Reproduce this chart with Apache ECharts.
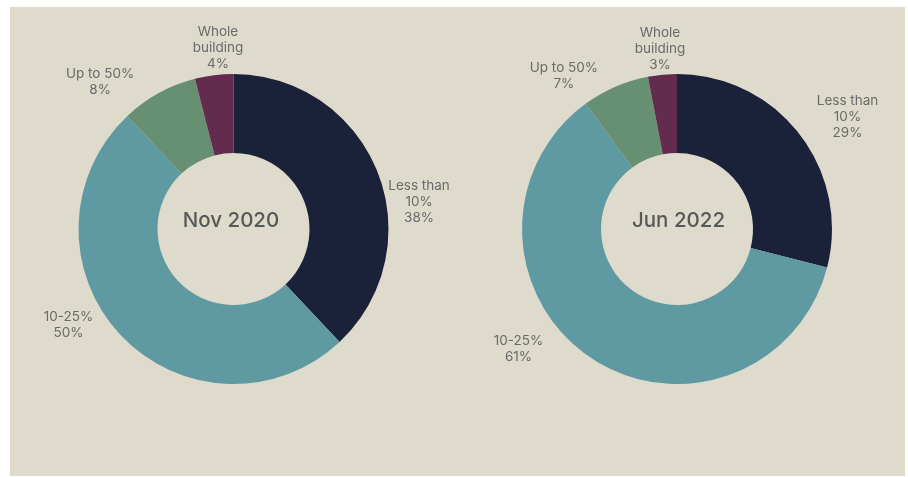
<!DOCTYPE html>
<html>
<head>
<meta charset="utf-8">
<style>
  html, body { margin: 0; padding: 0; background: #ffffff; }
  #chart { width: 908px; height: 477px; }
</style>
<script src="https://cdn.jsdelivr.net/npm/echarts@6/dist/echarts.min.js"></script>
</head>
<body>
<div id="chart"></div>
<script>
// Share of floor space by band, two survey dates
const categories = ['Less than 10%', '10-25%', 'Up to 50%', 'Whole building'];
const labelNames = ['Less than\n10%', '10-25%', 'Up to 50%', 'Whole\nbuilding'];
const periods = ['Nov 2020', 'Jun 2022'];
const valuesNov2020 = [38, 50, 8, 4];
const valuesJun2022 = [29, 61, 7, 3];

const colors = ['#1b2139', '#5f9aa3', '#678f72', '#632c4f'];
const FONT = 'Inter';

// Pie geometry (pixels)
const centers = [[233.5, 229], [677, 229]];
const radius = [76, 155];

// Label placement around each ring: [angle clockwise from 12 o'clock (deg), distance from centre (px)]
const labelPlacement = [
  [[81.7, 187.5], [239.8, 190.9], [317.8, 198.6], [355.1, 181.7]],
  [[56.7, 204.0], [232.9, 198.8], [323.6, 190.6], [354.6, 181.3]]
];

function makeSeries(idx, values) {
  return {
    type: 'pie',
    center: centers[idx],
    radius: radius,
    startAngle: 90,
    clockwise: true,
    avoidLabelOverlap: false,
    silent: true,
    data: values.map((v, i) => ({
      name: categories[i],
      value: v,
      itemStyle: { color: colors[i] }
    })),
    itemStyle: { borderWidth: 0 },
    label: {
      show: true,
      position: 'outside',
      formatter: p => labelNames[p.dataIndex] + '\n' + p.value + '%',
      fontFamily: FONT,
      fontSize: 13.5,
      lineHeight: 16,
      color: '#6a6a6a'
    },
    labelLine: { show: false, length: 0, length2: 0 },
    labelLayout: function (params) {
      const pl = labelPlacement[idx][params.dataIndex];
      const a = pl[0] * Math.PI / 180;
      return {
        x: centers[idx][0] + pl[1] * Math.sin(a),
        y: centers[idx][1] - pl[1] * Math.cos(a),
        align: 'center',
        verticalAlign: 'middle'
      };
    }
  };
}

function centreText(text, x) {
  return {
    type: 'text',
    z: 10,
    x: x, y: 221,
    style: {
      text: text, textAlign: 'center', textVerticalAlign: 'middle',
      fontFamily: FONT, fontSize: 20.5, fontWeight: 500, fill: '#575959'
    }
  };
}

const chart = echarts.init(document.getElementById('chart'), null, { renderer: 'canvas' });
chart.setOption({
  backgroundColor: '#ffffff',
  animation: false,
  graphic: [
    {
      type: 'rect',
      z: -10,
      silent: true,
      shape: { x: 10, y: 7, width: 895, height: 469 },
      style: { fill: '#dedbcc' }
    },
    centreText(periods[0], 231),
    centreText(periods[1], 678.5)
  ],
  series: [makeSeries(0, valuesNov2020), makeSeries(1, valuesJun2022)]
});
</script>
</body>
</html>
